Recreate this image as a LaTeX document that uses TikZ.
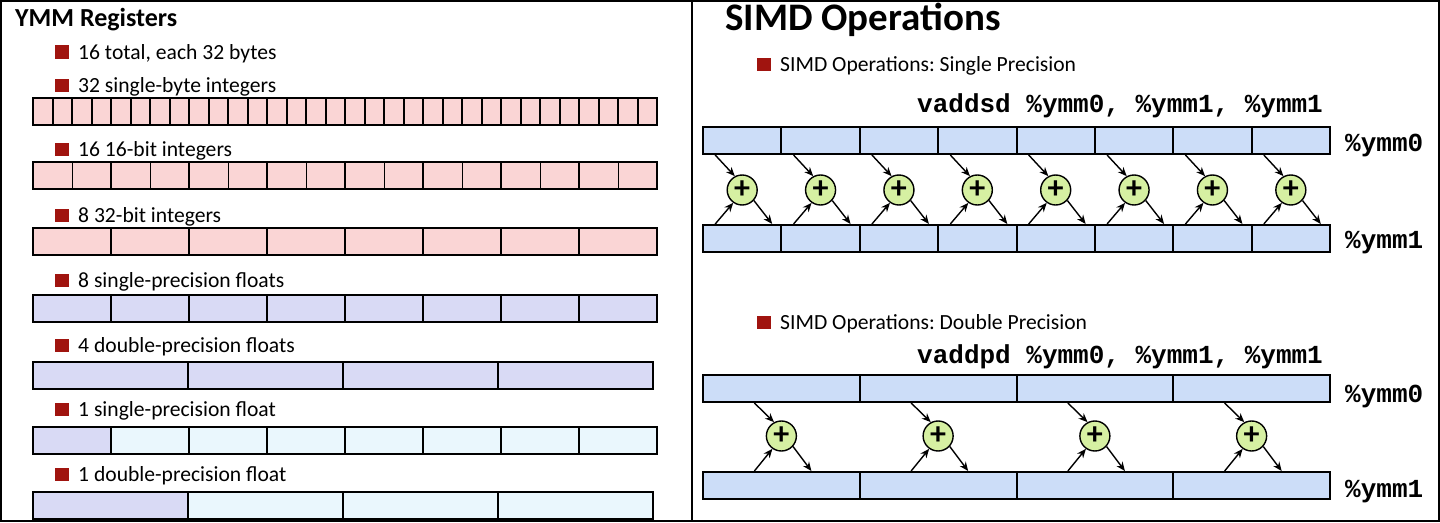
\documentclass[tikz,border=0pt]{standalone}
\usepackage{fontspec}
\setmainfont{Carlito}
\setmonofont{Liberation Mono}
\usepackage{tikz}
\usetikzlibrary{arrows.meta}
\frenchspacing

\definecolor{intpink}{RGB}{250,213,213}
\definecolor{fltlav}{RGB}{217,218,245}
\definecolor{unused}{RGB}{234,247,253}
\definecolor{regblue}{RGB}{204,221,248}
\definecolor{addgreen}{RGB}{214,240,162}
\definecolor{bulletred}{RGB}{160,20,15}
\newcommand{\sqbullet}{\textcolor{bulletred}{\rule{14pt}{13.5pt}}\hspace{9pt}}

\begin{document}
\begin{tikzpicture}[x=1pt, y=-1pt, >={Stealth[length=9pt, width=7.5pt]}, cell/.style={
		% The shape:
		rectangle,
		% The size:
		minimum height=27pt, inner sep=0pt,
		% The border
		line width=2pt, draw=black},
	thincell/.style={cell, line width=0.8pt},
	addop/.style={circle, minimum size=30pt, inner sep=0pt, line width=1.4pt, draw=black, fill=addgreen,
		font=\fontsize{32}{32}\selectfont\bfseries},
	heading/.style={anchor=base west, inner sep=0pt, font=\bfseries},
	item/.style={anchor=base west, inner sep=0pt, font=\fontsize{21.6}{24}\selectfont},
	asm/.style={anchor=base west, inner sep=0pt, font=\fontsize{26}{29}\selectfont\ttfamily\bfseries},
	arr/.style={->, line width=1.4pt}]
    \useasboundingbox (0,0) rectangle (1440,522);
    \draw [line width=2pt] (1,1) rectangle (1439,521);
    \draw [line width=2pt] (692,1) -- (692,521);

    % YMM registers
    \node [heading, font=\fontsize{26}{30}\selectfont\bfseries] (ymmtitle) at (15,26) {YMM Registers};
    \node [item] (total) at (55,59) {\sqbullet 16 total, each 32 bytes};
    \node [item] (bytes) at (55,92) {\sqbullet 32 single-byte integers};
    \foreach \i in {1,...,32}
        \node [cell, minimum width=19.5pt, fill=intpink] (byte\i) at ({33+19.5*(\i-0.5)},111.5) {};
    \node [item] (words) at (55,156) {\sqbullet 16 16-bit integers};
    \foreach \i in {1,...,16}
        \node [thincell, minimum width=39pt, fill=intpink] (word\i) at ({33+39*(\i-0.5)},175.5) {};
    \foreach \i in {1,...,8}
        \node [cell, minimum width=78pt] (wpair\i) at ({33+78*(\i-0.5)},175.5) {};
    \node [item] (dwords) at (55,222) {\sqbullet 8 32-bit integers};
    \foreach \i in {1,...,8}
        \node [cell, minimum width=78pt, fill=intpink] (dword\i) at ({33+78*(\i-0.5)},241.5) {};
    \node [item] (floats) at (55,287) {\sqbullet 8 single-precision floats};
    \foreach \i in {1,...,8}
        \node [cell, minimum width=78pt, fill=fltlav] (float\i) at ({33+78*(\i-0.5)},308.5) {};
    \node [item] (doubles) at (55,352) {\sqbullet 4 double-precision floats};
    \foreach \i in {1,...,4}
        \node [cell, minimum width=155pt, fill=fltlav] (double\i) at ({33+155*(\i-0.5)},375) {};
    \node [item] (onefloat) at (55,416) {\sqbullet 1 single-precision float};
    \node [cell, minimum width=78pt, fill=fltlav] (sfloat1) at (72,440) {};
    \foreach \i in {2,...,8}
        \node [cell, minimum width=78pt, fill=unused] (sfloat\i) at ({33+78*(\i-0.5)},440) {};
    \node [item] (onedouble) at (55,481) {\sqbullet 1 double-precision float};
    \node [cell, minimum width=155pt, fill=fltlav] (sdouble1) at (110.5,505) {};
    \foreach \i in {2,...,4}
        \node [cell, minimum width=155pt, fill=unused] (sdouble\i) at ({33+155*(\i-0.5)},505) {};

    % SIMD operations
    \node [heading, font=\fontsize{39}{44}\selectfont\bfseries] (simdtitle) at (725,30) {SIMD Operations};
    \node [item] (single) at (757,71) {\sqbullet SIMD Operations: Single Precision};
    \node [asm] (vaddsd) at (917,112) {vaddsd \%ymm0, \%ymm1, \%ymm1};
    \node [asm] (sreg0) at (1345,151) {\%ymm0};
    \node [asm] (sreg1) at (1345,248) {\%ymm1};
    \foreach \i in {1,...,8} {
        \node [cell, minimum width=78.375pt, fill=regblue] (sa\i) at ({703+78.375*(\i-0.5)},140.5) {};
        \node [cell, minimum width=78.375pt, fill=regblue] (sb\i) at ({703+78.375*(\i-0.5)},238.5) {};
        \node [addop] (sp\i) at ({703+78.375*(\i-0.5)},190) {+};
        \draw [arr] ([xshift=-27pt]sa\i.south) -- (sp\i.118);
        \draw [arr] ([xshift=-27pt]sb\i.north) -- (sp\i.235);
        \draw [arr] (sp\i.-42) -- ([xshift=30pt]sb\i.north);
    }
    \node [item] (double) at (757,329) {\sqbullet SIMD Operations: Double Precision};
    \node [asm] (vaddpd) at (917,363) {vaddpd \%ymm0, \%ymm1, \%ymm1};
    \node [asm] (dreg0) at (1345,402) {\%ymm0};
    \node [asm] (dreg1) at (1345,497) {\%ymm1};
    \foreach \i in {1,...,4} {
        \node [cell, minimum width=156.75pt, fill=regblue] (da\i) at ({703+156.75*(\i-0.5)},388.5) {};
        \node [cell, minimum width=156.75pt, fill=regblue] (db\i) at ({703+156.75*(\i-0.5)},485.5) {};
        \node [addop] (dp\i) at ({703+156.75*(\i-0.5)},436) {+};
        \draw [arr] ([xshift=-27pt]da\i.south) -- (dp\i.118);
        \draw [arr] ([xshift=-27pt]db\i.north) -- (dp\i.235);
        \draw [arr] (dp\i.-42) -- ([xshift=30pt]db\i.north);
    }
\end{tikzpicture}
\end{document}
